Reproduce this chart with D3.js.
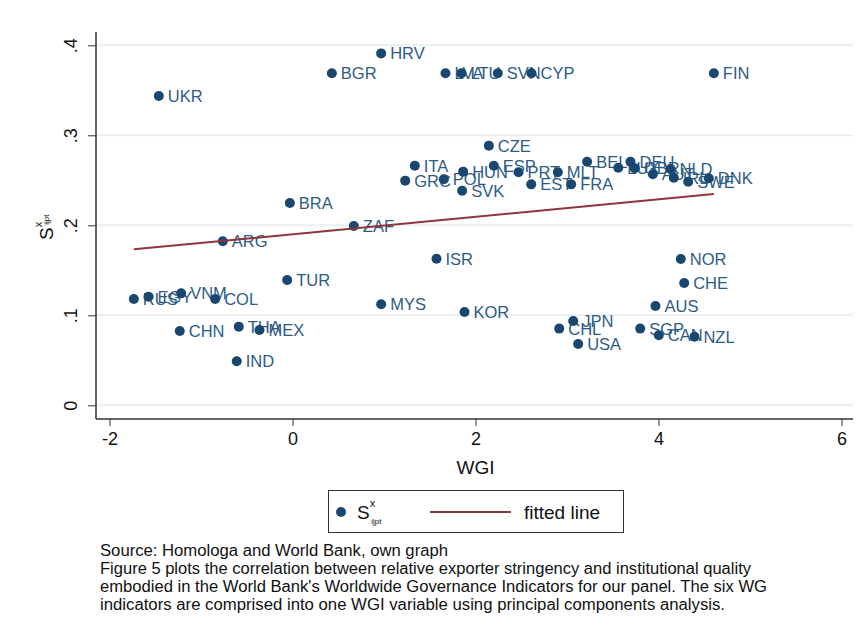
<!DOCTYPE html>
<html>
<head>
<meta charset="utf-8">
<script src="https://cdn.jsdelivr.net/npm/d3@7"></script>
<style>
  html, body { margin: 0; padding: 0; background: #fff; }
  svg { display: block; font-family: "Liberation Sans", Arial, sans-serif; }
</style>
</head>
<body>
<svg id="chart" width="863" height="630"></svg>
<script>
// Country codes, governance index (WGI) and relative exporter stringency
const countries = [
  "UKR","HRV","BGR","LVA","LTU","SVN","CYP","FIN",
  "CZE","ITA","ESP","GRC","POL","HUN","SVK","PRT","MLT","EST","FRA",
  "BEL","LUX","DEU","GBR","AUT","NLD","IRL","SWE","DNK",
  "BRA","ZAF","ARG","ISR","TUR","RUS","EGY","VNM","COL","MYS","KOR",
  "CHN","THA","MEX","IND","NOR","CHE","AUS","JPN","CHL","USA","SGP","CAN","NZL"
];
const wgi = [
  -1.461, 0.969, 0.430, 1.672, 1.847, 2.244, 2.612, 4.605,
  2.146, 1.337, 2.200, 1.232, 1.654, 1.865, 1.854, 2.470, 2.900, 2.609, 3.046,
  3.220, 3.560, 3.694, 3.741, 3.938, 4.131, 4.167, 4.325, 4.550,
  -0.029, 0.670, -0.762, 1.574, -0.058, -1.734, -1.574, -1.217, -0.845, 0.969, 1.880,
  -1.232, -0.587, -0.361, -0.609, 4.244, 4.281, 3.967, 3.068, 2.915, 3.122, 3.800, 4.003, 4.393
];
const stringency = [
  0.3437, 0.3910, 0.3690, 0.3690, 0.3690, 0.3690, 0.3690, 0.3690,
  0.2885, 0.2662, 0.2662, 0.2496, 0.2511, 0.2596, 0.2384, 0.2589, 0.2589, 0.2455, 0.2455,
  0.2707, 0.2640, 0.2707, 0.2633, 0.2567, 0.2626, 0.2529, 0.2484, 0.2522,
  0.2248, 0.1992, 0.1822, 0.1629, 0.1392, 0.1181, 0.1207, 0.1244, 0.1181, 0.1122, 0.1037,
  0.0826, 0.0874, 0.0837, 0.0489, 0.1626, 0.1359, 0.1103, 0.0937, 0.0852, 0.0681, 0.0852, 0.0778, 0.0762
];

// Linear fit: intercept and slope
const fitIntercept = 0.1901;
const fitSlope = 0.0097;

const xTicks = [-2, 0, 2, 4, 6];
const yTicks = [0, 0.1, 0.2, 0.3, 0.4];
const yTickLabels = ["0", ".1", ".2", ".3", ".4"];

const footnote = [
  "Source: Homologa and World Bank, own graph",
  "Figure 5 plots the correlation between relative exporter stringency and institutional quality",
  "embodied in the World Bank's Worldwide Governance Indicators for our panel. The six WG",
  "indicators are comprised into one WGI variable using principal components analysis."
];
const footnoteWidths = [348, 651, 667, 625];

const navy = "#1a476f";
const labelColor = "#2d5b86";
const maroon = "#90353b";
const axisColor = "#333";

const svg = d3.select("#chart");

const x = d3.scaleLinear().domain([-2, 6]).range([109.5, 841.5]);
const y = d3.scaleLinear().domain([0, 0.4]).range([405.3, 45.3]);

const plotLeft = 96, plotRight = 853, plotTop = 32, plotBottom = 419;

// horizontal grid lines
svg.append("g").selectAll("line").data(yTicks).join("line")
  .attr("x1", plotLeft).attr("x2", plotRight)
  .attr("y1", d => y(d)).attr("y2", d => y(d))
  .attr("stroke", "#e8f0f3").attr("stroke-width", 2);

// x axis
const xAxis = d3.axisBottom(x).tickValues(xTicks).tickSize(7).tickSizeOuter(0).tickFormat(d3.format("d"));
const gx = svg.append("g").attr("transform", `translate(0,${plotBottom})`).call(xAxis);
gx.select(".domain").remove();
gx.selectAll(".tick line").attr("stroke", axisColor);
gx.selectAll(".tick text").attr("font-size", 18).attr("fill", "#111").attr("y", 13)
  .attr("dy", "0.71em").attr("font-family", "Liberation Sans, Arial, sans-serif")
  .text(d => d < 0 ? "-" + Math.abs(d) : d);
svg.append("line").attr("x1", plotLeft).attr("x2", plotRight)
  .attr("y1", plotBottom).attr("y2", plotBottom)
  .attr("stroke", axisColor).attr("stroke-width", 1.5);

// y axis
const yAxis = d3.axisLeft(y).tickValues(yTicks).tickSize(8).tickSizeOuter(0).tickFormat((d, i) => yTickLabels[i]);
const gy = svg.append("g").attr("transform", `translate(${plotLeft},0)`).call(yAxis);
gy.select(".domain").remove();
gy.selectAll(".tick line").attr("stroke", axisColor);
gy.selectAll(".tick text")
  .attr("font-size", 18).attr("fill", "#111").attr("font-family", "Liberation Sans, Arial, sans-serif")
  .attr("x", null).attr("dy", null)
  .attr("text-anchor", "middle")
  .attr("transform", "translate(-19,0) rotate(-90)")
  .attr("y", 0);
svg.append("line").attr("x1", plotLeft).attr("x2", plotLeft)
  .attr("y1", plotTop).attr("y2", plotBottom)
  .attr("stroke", axisColor).attr("stroke-width", 1.5);

// axis titles
svg.append("text").attr("x", x(2)).attr("y", 474).attr("text-anchor", "middle")
  .attr("font-size", 19).attr("fill", "#111").text("WGI");

const yTitle = svg.append("text")
  .attr("transform", "translate(53,240) rotate(-90)")
  .attr("text-anchor", "start").attr("fill", "#111");
yTitle.append("tspan").attr("font-size", 19).text("S");
yTitle.append("tspan").attr("font-size", 11).attr("dy", -11).text("x");
yTitle.append("tspan").attr("font-size", 8).attr("dx", -3).attr("dy", 7).text("ijpt");

// data points with labels
const pts = countries.map((c, i) => ({ c, wx: wgi[i], s: stringency[i] }));

svg.append("g").selectAll("text").data(pts).join("text")
  .attr("x", d => x(d.wx) + 9).attr("y", d => y(d.s) + 6)
  .attr("font-size", 16.5).attr("fill", labelColor).text(d => d.c);

svg.append("g").selectAll("circle").data(pts).join("circle")
  .attr("cx", d => x(d.wx)).attr("cy", d => y(d.s)).attr("r", 5).attr("fill", navy);

// fitted line across the observed WGI range
const xExtent = d3.extent(wgi);
const fitLine = d3.line().x(d => x(d)).y(d => y(fitIntercept + fitSlope * d));
svg.append("path").datum(xExtent).attr("d", fitLine)
  .attr("fill", "none").attr("stroke", maroon).attr("stroke-width", 2);

// legend
const lg = svg.append("g");
lg.append("rect").attr("x", 328.5).attr("y", 490.5).attr("width", 295).attr("height", 42)
  .attr("fill", "#fff").attr("stroke", "#333").attr("stroke-width", 1);
lg.append("circle").attr("cx", 341).attr("cy", 512).attr("r", 5).attr("fill", navy);
const lt = lg.append("text").attr("x", 357).attr("y", 519).attr("fill", "#111");
lt.append("tspan").attr("font-size", 19).text("S");
lt.append("tspan").attr("font-size", 11).attr("dy", -12).text("x");
lt.append("tspan").attr("font-size", 8).attr("dx", -4).attr("dy", 17).text("ijpt");
lg.append("line").attr("x1", 430).attr("x2", 511).attr("y1", 512).attr("y2", 512)
  .attr("stroke", maroon).attr("stroke-width", 2);
lg.append("text").attr("x", 524).attr("y", 519).attr("font-size", 19).attr("fill", "#111")
  .text("fitted line");

// footnote
svg.append("g").selectAll("text").data(footnote).join("text")
  .attr("x", 100).attr("y", (d, i) => 556 + i * 18)
  .attr("font-size", 16).attr("fill", "#111")
  .attr("font-family", "Liberation Sans Narrow, Arial Narrow, Liberation Sans, sans-serif")
  .attr("textLength", (d, i) => footnoteWidths[i]).attr("lengthAdjust", "spacingAndGlyphs")
  .text(d => d);
</script>
</body>
</html>
